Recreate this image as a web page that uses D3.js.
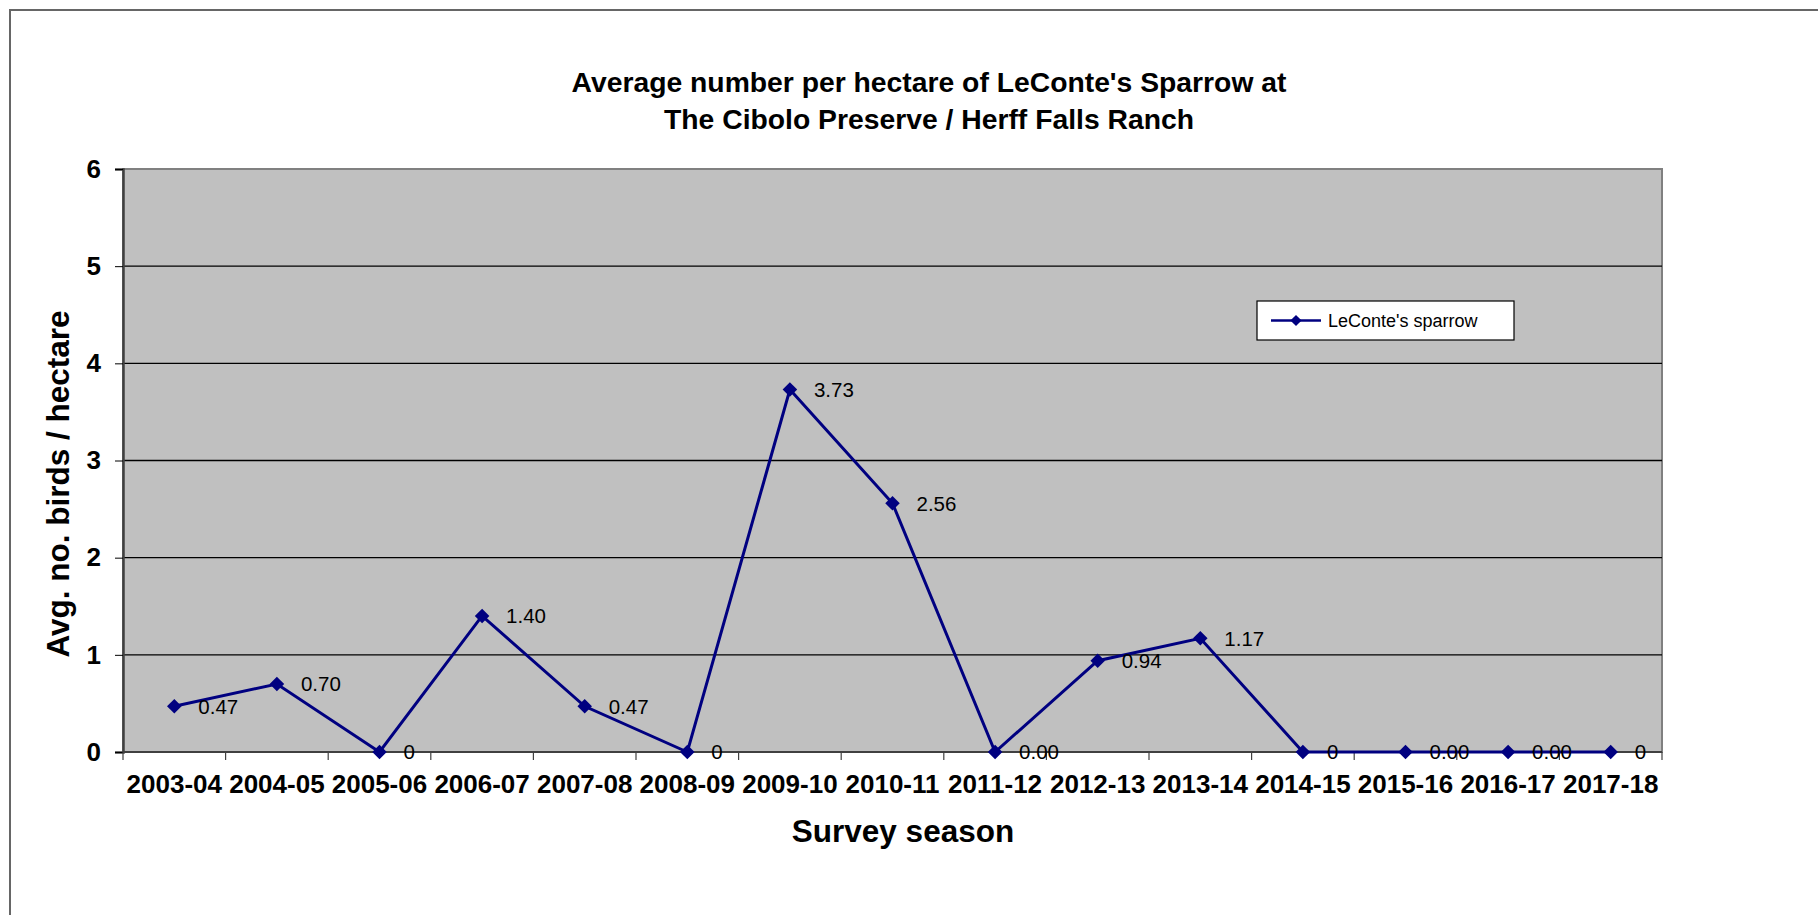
<!DOCTYPE html>
<html>
<head>
<meta charset="utf-8">
<script src="https://cdn.jsdelivr.net/npm/d3@7"></script>
<style>
  html, body { margin: 0; padding: 0; background: #fff; overflow: hidden; }
  svg { display: block; font-family: Arial, "Liberation Sans", sans-serif; }
</style>
</head>
<body>
<svg id="chart" width="1818" height="915"></svg>
<script>
const categories = ["2003-04","2004-05","2005-06","2006-07","2007-08","2008-09","2009-10","2010-11","2011-12","2012-13","2013-14","2014-15","2015-16","2016-17","2017-18"];
const values = [0.47, 0.70, 0, 1.40, 0.47, 0, 3.73, 2.56, 0, 0.94, 1.17, 0, 0, 0, 0];
const valueLabels = ["0.47","0.70","0","1.40","0.47","0","3.73","2.56","0.00","0.94","1.17","0","0.00","0.00","0"];
const yTicks = [0, 1, 2, 3, 4, 5, 6];
const seriesName = "LeConte's sparrow";
const titleLines = ["Average number per hectare of LeConte's Sparrow at", "The Cibolo Preserve / Herff Falls Ranch"];
const xTitle = "Survey season";
const yTitle = "Avg. no. birds / hectare";

const svg = d3.select("#chart");
const plot = { left: 123, top: 169, right: 1662, bottom: 752 };

// outer frame
svg.append("rect").attr("x", 10).attr("y", 10).attr("width", 1840).attr("height", 940)
  .attr("fill", "#fff").attr("stroke", "#666").attr("stroke-width", 2);

const x = d3.scaleBand().domain(categories).range([plot.left, plot.right]).padding(0);
const y = d3.scaleLinear().domain([0, 6]).range([plot.bottom, plot.top]);

// plot background
svg.append("rect").attr("x", plot.left).attr("y", plot.top)
  .attr("width", plot.right - plot.left).attr("height", plot.bottom - plot.top)
  .attr("fill", "#c0c0c0").attr("stroke", "#808080").attr("stroke-width", 2);

// gridlines
svg.append("g").selectAll("line").data(yTicks.filter(d => d > 0 && d < 6)).join("line")
  .attr("x1", plot.left).attr("x2", plot.right)
  .attr("y1", d => y(d)).attr("y2", d => y(d))
  .attr("stroke", "#000").attr("stroke-width", 1.3);

// y axis
const yAxis = d3.axisLeft(y).tickValues(yTicks).tickSize(8).tickPadding(14).tickFormat(d3.format("d"));
const gy = svg.append("g").attr("transform", `translate(${plot.left},0)`).call(yAxis);
gy.select(".domain").attr("stroke", "#404040").attr("stroke-width", 2.5);
gy.selectAll(".tick line").attr("stroke", "#000");
gy.selectAll(".tick text").attr("font-size", 26).attr("font-weight", "bold").attr("fill", "#000")
  .attr("font-family", "Arial, 'Liberation Sans', sans-serif");

// x axis
const gx = svg.append("g").attr("transform", `translate(0,${plot.bottom})`);
gx.append("line").attr("x1", plot.left).attr("x2", plot.right).attr("y1", 0).attr("y2", 0)
  .attr("stroke", "#404040").attr("stroke-width", 2);
const bounds = categories.map(c => x(c)).concat([plot.right]);
gx.selectAll("line.tk").data(bounds).join("line").attr("class", "tk")
  .attr("x1", d => d).attr("x2", d => d).attr("y1", 0).attr("y2", 8)
  .attr("stroke", "#404040").attr("stroke-width", 1.2);
gx.selectAll("text").data(categories).join("text")
  .attr("x", d => x(d) + x.bandwidth() / 2).attr("y", 41)
  .attr("text-anchor", "middle").attr("font-size", 26).attr("font-weight", "bold")
  .text(d => d);

// line
const cx = (d, i) => x(categories[i]) + x.bandwidth() / 2;
const line = d3.line().x((d, i) => cx(d, i)).y(d => y(d));
svg.append("path").datum(values).attr("d", line)
  .attr("fill", "none").attr("stroke", "#000080").attr("stroke-width", 3);

// markers
const diamond = d3.symbol().type(d3.symbolDiamond2).size(135);
svg.append("g").selectAll("path").data(values).join("path")
  .attr("d", diamond)
  .attr("transform", (d, i) => `translate(${cx(d, i)},${y(d)})`)
  .attr("fill", "#000080");

// data labels
svg.append("g").selectAll("text").data(values).join("text")
  .attr("x", (d, i) => cx(d, i) + 24).attr("y", d => y(d))
  .attr("dy", "0.36em").attr("font-size", 20.5).attr("fill", "#000")
  .text((d, i) => valueLabels[i]);

// title
svg.append("g").selectAll("text").data(titleLines).join("text")
  .attr("x", 929).attr("y", (d, i) => 92 + i * 37)
  .attr("text-anchor", "middle").attr("font-size", 28.3).attr("font-weight", "bold")
  .text(d => d);

// axis titles
svg.append("text").attr("x", 903).attr("y", 842).attr("text-anchor", "middle")
  .attr("font-size", 31.5).attr("font-weight", "bold").text(xTitle);
svg.append("text").attr("transform", "translate(69,484) rotate(-90)").attr("text-anchor", "middle")
  .attr("font-size", 31.5).attr("font-weight", "bold").text(yTitle);

// legend
const lg = svg.append("g").attr("transform", "translate(1257,301)");
lg.append("rect").attr("x", 0).attr("y", 0).attr("width", 257).attr("height", 39)
  .attr("fill", "#fff").attr("stroke", "#000").attr("stroke-width", 1.2);
lg.append("line").attr("x1", 14).attr("x2", 64).attr("y1", 19.5).attr("y2", 19.5)
  .attr("stroke", "#000080").attr("stroke-width", 2.5);
lg.append("path").attr("d", d3.symbol().type(d3.symbolDiamond2).size(80)).attr("transform", "translate(39,19.5)")
  .attr("fill", "#000080");
lg.append("text").attr("x", 71).attr("y", 19.5).attr("dy", "0.36em").attr("font-size", 18).text(seriesName);
</script>
</body>
</html>
